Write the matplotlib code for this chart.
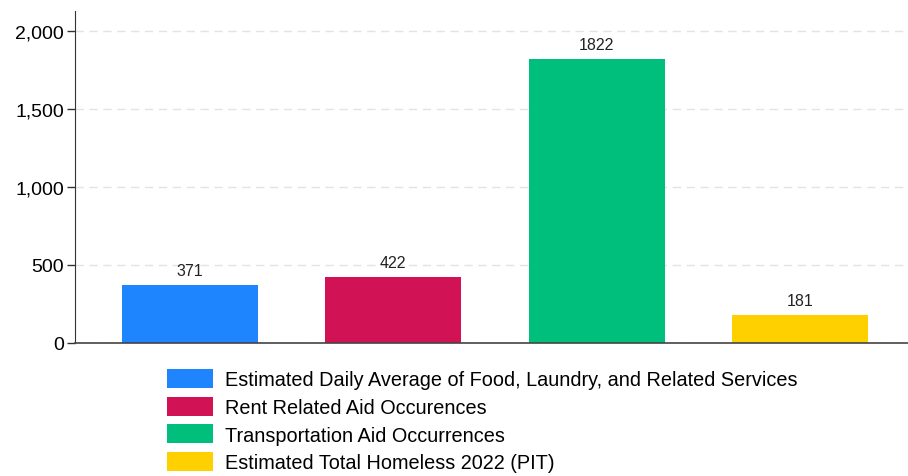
import matplotlib.pyplot as plt
from matplotlib.ticker import FuncFormatter
from matplotlib.patches import Patch

categories = [
    'Estimated Daily Average of Food, Laundry, and Related Services',
    'Rent Related Aid Occurences',
    'Transportation Aid Occurrences',
    'Estimated Total Homeless 2022 (PIT)',
]
values = [371, 422, 1822, 181]
colors = ['#1f85ff', '#d11356', '#00bf7d', '#ffd000']

plt.rcParams['font.family'] = ['Liberation Sans', 'DejaVu Sans']

fig = plt.figure(figsize=(9.08, 4.77), dpi=100)
ax = fig.add_axes([0.0826, 0.279, 0.9174, 0.696])

x = list(range(len(values)))
bars = ax.bar(x, values, width=0.67, color=colors, zorder=2)
for b, v in zip(bars, values):
    ax.text(b.get_x() + b.get_width() / 2, v + 45, str(v), ha='center', va='bottom',
            fontsize=11.5, color='#222222')

ax.set_xlim(-0.565, 3.53)
ax.set_ylim(0, 2128)
ax.set_yticks([0, 500, 1000, 1500, 2000])
ax.yaxis.set_major_formatter(FuncFormatter(lambda v, p: f'{int(v):,}'))
ax.tick_params(axis='y', labelsize=14, length=6, width=1, color='#333333', pad=2)
ax.set_xticks([])
ax.yaxis.grid(True, linestyle=(0, (6, 4)), color='#e3e3e3', linewidth=1, zorder=0)
for s in ['top', 'right']:
    ax.spines[s].set_visible(False)
ax.spines['left'].set_color('#333333')
ax.spines['bottom'].set_color('#444444')
ax.spines['bottom'].set_linewidth(1.2)

handles = [Patch(facecolor=c) for c in colors]
fig.legend(handles, categories, loc='upper left', bbox_to_anchor=(0.184, 0.225),
           frameon=False, fontsize=14.3, handlelength=2.3, handleheight=1.1,
           handletextpad=0.6, labelspacing=0.38, borderaxespad=0, borderpad=0)

fig.savefig('out.png', dpi=100)
